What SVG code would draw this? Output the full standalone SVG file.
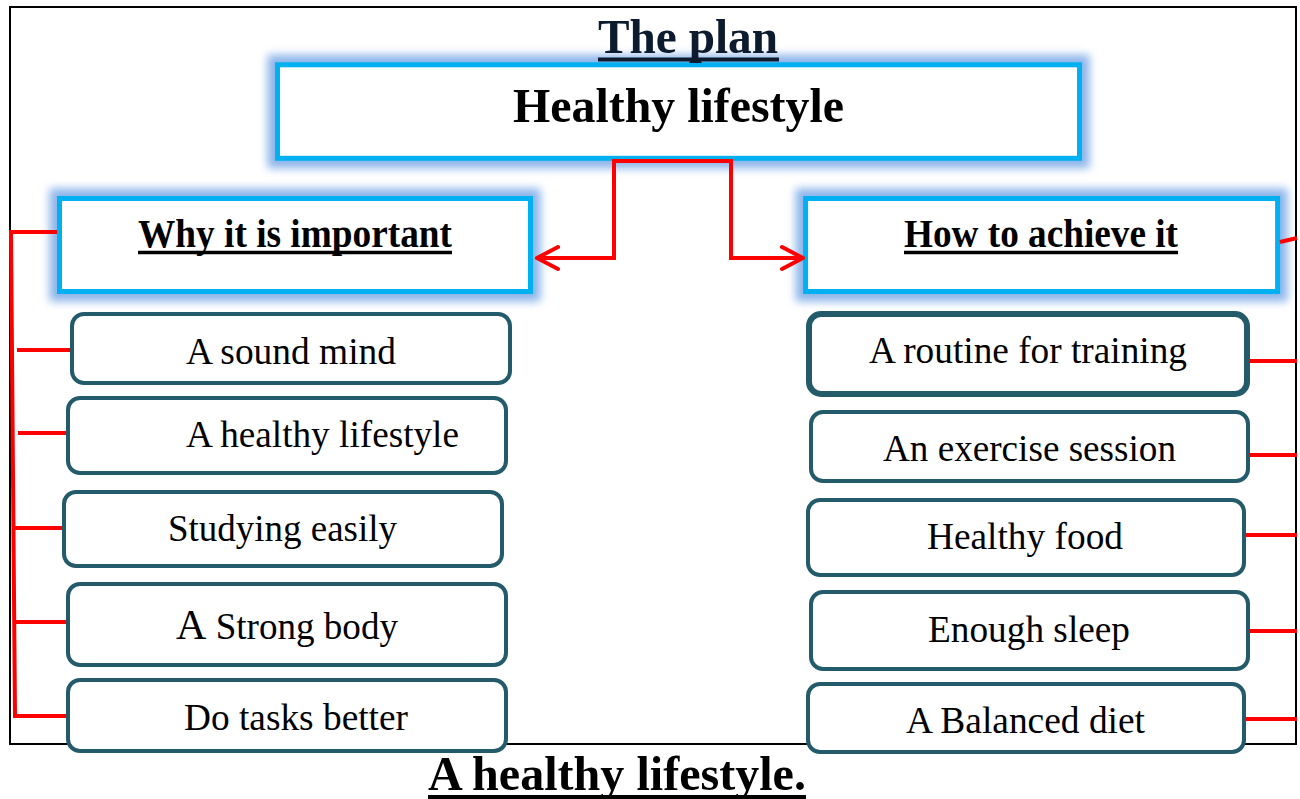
<svg xmlns="http://www.w3.org/2000/svg" width="1300" height="799" viewBox="0 0 1300 799">
<style>
.t{font-family:"Liberation Serif","Times New Roman",serif;fill:#000}
.lf{font-size:37px}
.hd{font-size:40px;font-weight:bold}
.big{font-size:49px;font-weight:bold}
.ul{stroke:#000;stroke-width:3.5}
.blue{fill:#fff;stroke:#00B0F0;stroke-width:5}
.glow{fill:none;stroke:#8CB5EA;stroke-width:20;filter:url(#blur)}
.leaf{fill:#fff;stroke:#245B6A;stroke-width:4}
.red{fill:none;stroke:#FF0000;stroke-width:4}
</style>
<defs>
<filter id="blur" x="-10%" y="-40%" width="120%" height="180%"><feGaussianBlur stdDeviation="4.5"/></filter>
<marker id="chev" viewBox="0 0 30 30" refX="26" refY="15" markerWidth="30" markerHeight="30" markerUnits="userSpaceOnUse" orient="auto">
<path d="M5,4 L26,15 L5,26" fill="none" stroke="#FF0000" stroke-width="4" stroke-linejoin="round" stroke-linecap="round"/>
</marker>
</defs>
<rect width="1300" height="799" fill="#fff"/>
<rect x="10" y="7" width="1286" height="737" fill="none" stroke="#000" stroke-width="2"/>

<g id="root">
<rect class="glow" x="277.5" y="64.8" width="802" height="93.5"/>
<rect class="blue" x="277.5" y="64.8" width="802" height="93.5"/>
<text class="t big" x="513" y="122" textLength="331" lengthAdjust="spacingAndGlyphs">Healthy lifestyle</text>
</g>
<text class="t big" x="598" y="53" textLength="180" lengthAdjust="spacingAndGlyphs" style="fill:#0d1b2e">The plan</text>
<line x1="598" y1="59.5" x2="779" y2="59.5" class="ul" style="stroke:#0d1b2e;stroke-width:4"/>
<g id="why">
<rect class="glow" x="59.5" y="198.5" width="471" height="93"/>
<rect class="blue" x="59.5" y="198.5" width="471" height="93"/>
<text class="t hd" x="138" y="247" textLength="314" lengthAdjust="spacingAndGlyphs">Why it is important</text>
<line x1="138" y1="252.5" x2="452" y2="252.5" class="ul"/>
</g>
<g id="how">
<rect class="glow" x="805.6" y="198.5" width="472" height="93"/>
<rect class="blue" x="805.6" y="198.5" width="472" height="93"/>
<text class="t hd" x="904" y="247" textLength="274" lengthAdjust="spacingAndGlyphs">How to achieve it</text>
<line x1="904" y1="252.5" x2="1178" y2="252.5" class="ul"/>
</g>

<g id="connectors">
<path class="red" d="M678,161 H614 V258 H537" marker-end="url(#chev)"/>
<path class="red" d="M678,161 H731 V258 H803" marker-end="url(#chev)"/>
<path class="red" d="M57,232 H11 L15,716 H66"/>
<path class="red" d="M17,350 H72"/>
<path class="red" d="M18,433 H68"/>
<path class="red" d="M13,528 H64"/>
<path class="red" d="M14,622 H68"/>
<path class="red" d="M1280,242 L1297,238"/>
<path class="red" d="M1247,361 H1297"/>
<path class="red" d="M1248,455 H1297"/>
<path class="red" d="M1244,535 H1297"/>
<path class="red" d="M1248,631 H1297"/>
<path class="red" d="M1244,719 H1297"/>
</g>

<g id="l1"><rect class="leaf" x="72" y="314" width="438" height="69" rx="12"/><text class="t lf" x="186" y="364" textLength="210" lengthAdjust="spacingAndGlyphs">A sound mind</text></g>
<g id="l2"><rect class="leaf" x="68" y="398" width="438" height="75" rx="12"/><text class="t lf" x="186" y="447" textLength="273" lengthAdjust="spacingAndGlyphs">A healthy lifestyle</text></g>
<g id="l3"><rect class="leaf" x="64" y="492" width="438" height="74" rx="12"/><text class="t lf" x="168" y="541" textLength="229" lengthAdjust="spacingAndGlyphs">Studying easily</text></g>
<g id="l4"><rect class="leaf" x="68" y="584" width="438" height="81" rx="12"/><text class="t lf" x="176" y="639" textLength="222" lengthAdjust="spacingAndGlyphs"><tspan style="font-size:42px">A</tspan> Strong body</text></g>
<g id="l5"><rect class="leaf" x="68" y="680" width="438" height="71" rx="12"/><text class="t lf" x="184" y="730" textLength="224" lengthAdjust="spacingAndGlyphs">Do tasks better</text></g>

<g id="r1"><rect class="leaf" x="809" y="314" width="438" height="80" rx="12" style="stroke-width:6"/><text class="t lf" x="869" y="363" textLength="318" lengthAdjust="spacingAndGlyphs">A routine for training</text></g>
<g id="r2"><rect class="leaf" x="811" y="412" width="437" height="69" rx="12"/><text class="t lf" x="883" y="461" textLength="293" lengthAdjust="spacingAndGlyphs">An exercise session</text></g>
<g id="r3"><rect class="leaf" x="808" y="500" width="436" height="75" rx="12"/><text class="t lf" x="927" y="549" textLength="196" lengthAdjust="spacingAndGlyphs">Healthy food</text></g>
<g id="r4"><rect class="leaf" x="811" y="592" width="437" height="77" rx="12"/><text class="t lf" x="928" y="642" textLength="202" lengthAdjust="spacingAndGlyphs">Enough sleep</text></g>
<g id="r5"><rect class="leaf" x="808" y="684" width="436" height="68" rx="12"/><text class="t lf" x="906" y="733" textLength="239" lengthAdjust="spacingAndGlyphs">A Balanced diet</text></g>

<text class="t big" x="428" y="790" textLength="378" lengthAdjust="spacingAndGlyphs">A healthy lifestyle.</text>
<line x1="428" y1="797" x2="806" y2="797" class="ul" style="stroke-width:4"/>
</svg>
